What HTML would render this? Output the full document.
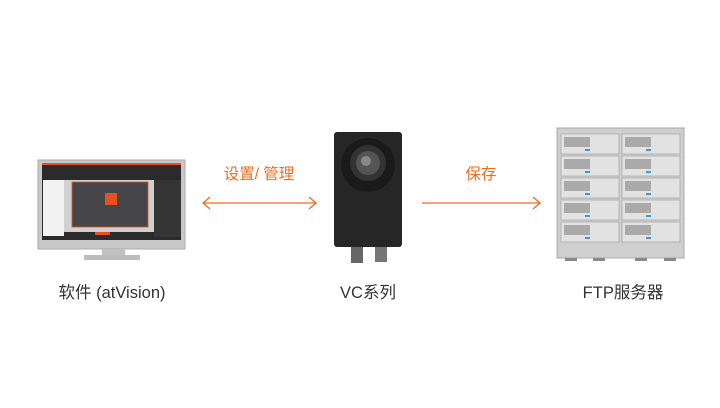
<!DOCTYPE html>
<html><head><meta charset="utf-8"><style>
body{margin:0;width:720px;height:408px;background:#fff;overflow:hidden;position:relative;font-family:"Liberation Sans","Noto Sans CJK SC",sans-serif}
.t{position:absolute;font-size:16.5px;color:#333;white-space:nowrap;transform:translateX(-50%)}
.o{position:absolute;font-size:15.5px;color:#f26b1d;white-space:nowrap;transform:translateX(-50%)}
</style></head><body>
<svg width="720" height="408" style="position:absolute;left:0;top:0">
<rect x="38" y="160" width="147" height="89" fill="#c8c8c8" stroke="#aaa"/>
<rect x="42" y="163" width="139" height="77" fill="#2b2b2b"/>
<rect x="42" y="163" width="139" height="2" fill="#e5501e"/>
<rect x="43" y="180" width="21" height="56" fill="#f2f2f2"/>
<rect x="64" y="180" width="90" height="52" fill="#d0d0d0"/>
<rect x="72" y="182" width="76" height="45" fill="#45454a" stroke="#e5501e" stroke-width="0.8"/>
<rect x="105" y="193" width="12" height="12" fill="#e5501e"/>
<rect x="154" y="180" width="27" height="57" fill="#353535"/>
<rect x="95" y="232" width="15" height="3" fill="#e5501e"/>
<rect x="102" y="249" width="23" height="6" fill="#c0c0c0"/>
<rect x="84" y="255" width="56" height="5" fill="#bdbdbd"/>
<rect x="334" y="132" width="68" height="115" rx="3" fill="#262626"/>
<circle cx="368" cy="165" r="27" fill="#1a1a1a"/>
<circle cx="368" cy="163" r="18" fill="#333"/>
<circle cx="368" cy="163" r="12" fill="#555"/>
<circle cx="366" cy="161" r="5" fill="#888"/>
<rect x="351" y="247" width="12" height="16" fill="#666"/>
<rect x="375" y="247" width="12" height="15" fill="#777"/>
<g stroke="#f26b1d" stroke-width="1.3" fill="none">
<line x1="203" y1="203" x2="316" y2="203"/>
<polyline points="210,197 203,203 210,209"/>
<polyline points="309,197 316,203 309,209"/>
<line x1="422" y1="203" x2="540" y2="203"/>
<polyline points="533,197 540,203 533,209"/>
</g>
<rect x="557" y="128" width="127" height="130" fill="#cfcfcf" stroke="#aaa"/>
<g fill="#e2e2e2" stroke="#aaa" stroke-width="0.8">
<rect x="561" y="134" width="58" height="20"/><rect x="622" y="134" width="58" height="20"/>
<rect x="561" y="156" width="58" height="20"/><rect x="622" y="156" width="58" height="20"/>
<rect x="561" y="178" width="58" height="20"/><rect x="622" y="178" width="58" height="20"/>
<rect x="561" y="200" width="58" height="20"/><rect x="622" y="200" width="58" height="20"/>
<rect x="561" y="222" width="58" height="20"/><rect x="622" y="222" width="58" height="20"/>
</g>
<g fill="#aaa">
<rect x="564" y="137" width="26" height="10"/><rect x="625" y="137" width="26" height="10"/>
<rect x="564" y="159" width="26" height="10"/><rect x="625" y="159" width="26" height="10"/>
<rect x="564" y="181" width="26" height="10"/><rect x="625" y="181" width="26" height="10"/>
<rect x="564" y="203" width="26" height="10"/><rect x="625" y="203" width="26" height="10"/>
<rect x="564" y="225" width="26" height="10"/><rect x="625" y="225" width="26" height="10"/>
</g>
<g fill="#3a9ad9">
<rect x="585" y="149" width="5" height="2"/><rect x="646" y="149" width="5" height="2"/>
<rect x="585" y="171" width="5" height="2"/><rect x="646" y="171" width="5" height="2"/>
<rect x="585" y="193" width="5" height="2"/><rect x="646" y="193" width="5" height="2"/>
<rect x="585" y="215" width="5" height="2"/><rect x="646" y="215" width="5" height="2"/>
<rect x="585" y="237" width="5" height="2"/><rect x="646" y="237" width="5" height="2"/>
</g>
<g fill="#888"><rect x="565" y="258" width="12" height="3"/><rect x="593" y="258" width="12" height="3"/><rect x="635" y="258" width="12" height="3"/><rect x="664" y="258" width="12" height="3"/></g>
</svg>
<div class="o" style="left:259px;top:162px">设置/ 管理</div>
<div class="o" style="left:481px;top:162px">保存</div>
<div class="t" style="left:112px;top:279px">软件 (atVision)</div>
<div class="t" style="left:368px;top:279px">VC系列</div>
<div class="t" style="left:623px;top:279px">FTP服务器</div>
</body></html>
